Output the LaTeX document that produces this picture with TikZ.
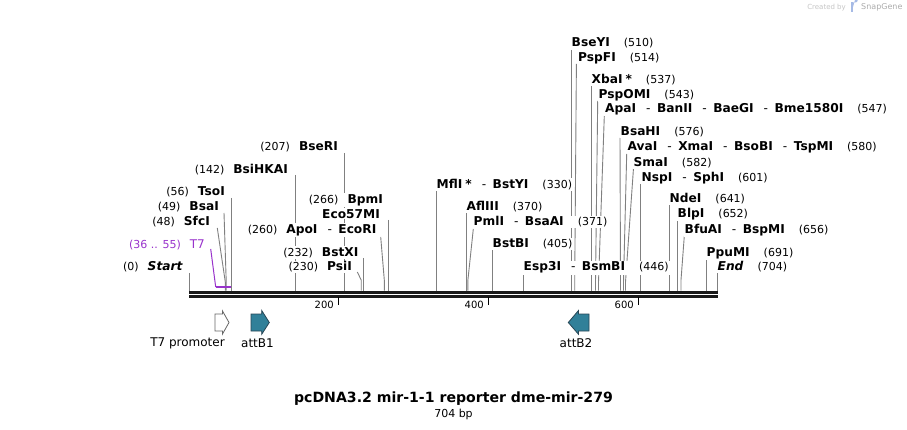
\documentclass[tikz,border=0pt]{standalone}
\usepackage{fontspec}
\setmainfont{DejaVu Sans}
\definecolor{purp}{RGB}{153,51,204}
\definecolor{tealf}{RGB}{49,128,153}
\definecolor{teald}{RGB}{40,70,85}
\definecolor{cutgray}{RGB}{128,128,128}
\newcommand{\nmf}{\fontsize{11}{13}\selectfont\mdseries}
\newcommand{\enf}{\fontsize{12.2}{14}\selectfont\bfseries}
\newcommand{\sepd}{\hspace{10pt}{\mdseries -}\hspace{6.5pt}}
\newcommand{\lnum}[1]{{\nmf #1}\hspace{9pt}}
\newcommand{\rnum}[1]{\hspace{14pt}{\nmf #1}}
\tikzset{
  lblL/.style={anchor=base east, inner sep=1pt, fill=white, font=\enf},
  lblR/.style={anchor=base west, inner sep=1pt, fill=white, font=\enf},
  cut/.style={draw=cutgray, line width=0.9pt},
  feat/.style={font=\fontsize{12}{14}\selectfont, inner sep=0pt},
  tickl/.style={font=\fontsize{10}{12}\selectfont, anchor=east, inner sep=0pt},
  tickm/.style={line width=1.8pt},
  bb/.style={line width=2.6pt, black!90}
}
\begin{document}
\begin{tikzpicture}[x=1pt,y=-1pt]
\fill[white] (0,0) rectangle (907,430);
\useasboundingbox (0,0) rectangle (907,430);

% cut-site coordinates on the backbone
\foreach \n/\x in {s0/189, s48/225.3, s49/226.2, s56/231, s142/295.3, s207/344.3, s230/361.2,
  s232/363.3, s260/384.3, s266/388.7, s330/436.7, s370/466.7, s371/467.9, s405/492.3, s446/523.3,
  s510/571.7, s514/574.7, s537/591.7, s543/595.5, s547/598.5, s576/620.5, s580/623.5, s582/625.5,
  s601/640.5, s641/669.3, s652/677.3, s656/681, s691/706.7, s704/717.3}
  {\coordinate (\n) at (\x,290.5);}

% cut lines
\draw[cut] (189,273) -- (s0);
\draw[cut] (217.3,228) -- (225.3,282) -- (s48);
\draw[cut] (224,213) -- (226.2,281) -- (s49);
\draw[cut] (231,198) -- (s56);
\draw[cut] (295.3,175) -- (s142);
\draw[cut] (344.3,153) -- (s207);
\draw[cut] (357.3,272) -- (361.2,280) -- (s230);
\draw[cut] (363.3,258) -- (s232);
\draw[cut] (380.7,237) -- (384.3,280) -- (s260);
\draw[cut] (388.7,220) -- (s266);
\draw[cut] (436.7,190) -- (s330);
\draw[cut] (466.7,213) -- (s370);
\draw[cut] (473.3,229) -- (467.9,280) -- (s371);
\draw[cut] (492.3,250) -- (s405);
\draw[cut] (523.3,274) -- (s446);
\draw[cut] (571.7,50) -- (s510);
\draw[cut] (576.4,64) -- (574.7,282) -- (s514);
\draw[cut] (591.7,86) -- (s537);
\draw[cut] (597.7,101) -- (595.5,282) -- (s543);
\draw[cut] (604.3,116) -- (598.5,282) -- (s547);
\draw[cut] (620,138) -- (620.5,282) -- (s576);
\draw[cut] (626.7,154) -- (623.5,282) -- (s580);
\draw[cut] (633.5,168) -- (625.5,282) -- (s582);
\draw[cut] (640.5,184) -- (s601);
\draw[cut] (669.3,205) -- (s641);
\draw[cut] (677.3,218) -- (s652);
\draw[cut] (684.3,236) -- (681,280) -- (s656);
\draw[cut] (706.7,258) -- (s691);
\draw[cut] (717.3,272) -- (s704);

% T7 feature mark
\coordinate (t7a) at (210.7,249);
\coordinate (t7b) at (215.7,287);
\coordinate (t7c) at (230.5,287);
\draw[purp, line width=1pt] (t7a) -- (t7b);
\draw[purp, line width=2pt] (t7b) -- (t7c);

% backbone
\coordinate (bbL) at (189,292.3);
\coordinate (bbR) at (717.5,292.3);
\coordinate (bbL2) at (189,296.5);
\coordinate (bbR2) at (717.5,296.5);
\draw[bb] (bbL) -- (bbR);
\draw[bb] (bbL2) -- (bbR2);

% ticks
\coordinate (k200a) at (338.5,297); \coordinate (k200b) at (338.5,304.5);
\coordinate (k400a) at (488.5,297); \coordinate (k400b) at (488.5,304.5);
\coordinate (k600a) at (638.5,297); \coordinate (k600b) at (638.5,304.5);
\draw[tickm] (k200a) -- (k200b);
\draw[tickm] (k400a) -- (k400b);
\draw[tickm] (k600a) -- (k600b);
\node[tickl] (n200) at (334,304.5) {200};
\node[tickl] (n400) at (484,304.5) {400};
\node[tickl] (n600) at (634,304.5) {600};

% left labels
\node[lblL] (lStart) at (184,271) {\lnum{(0)}\textit{Start}};
\node[lblL, text=purp, font=\fontsize{12}{14}\selectfont] (lT7) at (206,248.3) {{\nmf (36 .. 55)}\hspace{9pt}T7};
\node[lblL] (lSfcI) at (211,226) {\lnum{(48)}SfcI};
\node[lblL] (lBsaI) at (220,211) {\lnum{(49)}BsaI};
\node[lblL] (lTsoI) at (226,196) {\lnum{(56)}TsoI};
\node[lblL] (lBsiHKAI) at (289,173.3) {\lnum{(142)}BsiHKAI};
\node[lblL] (lBseRI) at (339,151) {\lnum{(207)}BseRI};
\node[lblL] (lBpmI) at (384,203.3) {\lnum{(266)}BpmI};
\node[lblL] (lEco57MI) at (381,218.3) {Eco57MI};
\node[lblL] (lApoI) at (377.5,233.3) {\lnum{(260)}ApoI\sepd EcoRI};
\node[lblL] (lBstXI) at (359.5,256.3) {\lnum{(232)}BstXI};
\node[lblL] (lPsiI) at (353,271) {\lnum{(230)}PsiI};

% right labels
\node[lblR] (lMflI) at (435.5,188.3) {MflI\hspace{3pt}*\sepd BstYI\rnum{(330)}};
\node[lblR] (lAflIII) at (465.5,210.3) {AflIII\rnum{(370)}};
\node[lblR] (lPmlI) at (472.5,226) {PmlI\sepd BsaAI\rnum{(371)}};
\node[lblR] (lBstBI) at (491.5,247.6) {BstBI\rnum{(405)}};
\node[lblR] (lEsp3I) at (522.5,271) {Esp3I\sepd BsmBI\rnum{(446)}};
\node[lblR] (lBseYI) at (570.5,46.3) {BseYI\rnum{(510)}};
\node[lblR] (lPspFI) at (577,61.3) {PspFI\rnum{(514)}};
\node[lblR] (lXbaI) at (590.5,83.3) {XbaI\hspace{3pt}*\rnum{(537)}};
\node[lblR] (lPspOMI) at (597.5,98.3) {PspOMI\rnum{(543)}};
\node[lblR] (lApaI) at (604,112.3) {ApaI\sepd BanII\sepd BaeGI\sepd Bme1580I\rnum{(547)}};
\node[lblR] (lBsaHI) at (619.5,135.3) {BsaHI\rnum{(576)}};
\node[lblR] (lAvaI) at (626.5,150.3) {AvaI\sepd XmaI\sepd BsoBI\sepd TspMI\rnum{(580)}};
\node[lblR] (lSmaI) at (632.5,166.3) {SmaI\rnum{(582)}};
\node[lblR] (lNspI) at (640.5,181.3) {NspI\sepd SphI\rnum{(601)}};
\node[lblR] (lNdeI) at (668.5,202.3) {NdeI\rnum{(641)}};
\node[lblR] (lBlpI) at (676.5,217.3) {BlpI\rnum{(652)}};
\node[lblR] (lBfuAI) at (683.5,233.3) {BfuAI\sepd BspMI\rnum{(656)}};
\node[lblR] (lPpuMI) at (705.5,256.3) {PpuMI\rnum{(691)}};
\node[lblR] (lEnd) at (716.5,271) {\textit{End}\rnum{(704)}};

% features
\draw[fill=white, draw=gray!80!black, line width=0.8pt]
  (215,314) -- (222.5,314) -- (222.5,311) -- (229,322.5) -- (222.5,334) -- (222.5,331) -- (215,331) -- cycle;
\draw[fill=tealf, draw=teald, line width=0.8pt]
  (251,314) -- (261.7,314) -- (261.7,310.5) -- (269.3,322.5) -- (261.7,334.3) -- (261.7,331) -- (251,331) -- cycle;
\draw[fill=tealf, draw=teald, line width=0.8pt]
  (589,314) -- (578.5,314) -- (578.5,310.5) -- (568.3,322.5) -- (578.5,334.3) -- (578.5,331) -- (589,331) -- cycle;
\node[feat] (fT7) at (187.5,343.5) {T7 promoter};
\node[feat] (fB1) at (257.5,343.5) {attB1};
\node[feat] (fB2) at (576,343.5) {attB2};

% title
\node[font=\fontsize{14.1}{16}\selectfont\bfseries, inner sep=0pt] (title) at (453.5,399) {pcDNA3.2 mir-1-1 reporter dme-mir-279};
\node[font=\fontsize{11}{13}\selectfont, inner sep=0pt] (size) at (453.5,414) {704 bp};

% watermark
\node[font=\fontsize{7}{8}\selectfont, text=gray!45, anchor=east, inner sep=0pt] (wm1) at (846,7.5) {Created by};
\fill[cyan!45!blue!35] (850.5,2.5) rectangle (853,12);
\fill[cyan!45!blue!35] (853,2.5) -- (855.5,2.5) arc (90:-90:2.2) -- (853,6.9) -- cycle;
\node[font=\fontsize{8}{9}\selectfont, text=gray!65, anchor=west, inner sep=0pt] (wm2) at (861,7.5) {SnapGene};
\end{tikzpicture}
\end{document}
